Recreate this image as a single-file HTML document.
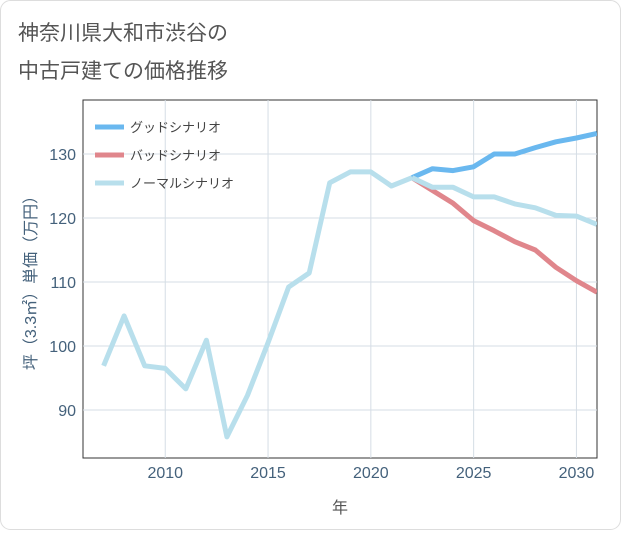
<!DOCTYPE html>
<html><head><meta charset="utf-8"><style>
body{margin:0;background:#fff;}
#wrap{width:621px;height:530px;position:relative;background:#fff;font-family:"Liberation Sans","Noto Sans CJK JP",sans-serif;}
</style></head><body>
<div id="wrap">
<svg id="chart" width="621" height="530" xmlns="http://www.w3.org/2000/svg">
<rect x="0.5" y="0.5" width="620" height="529" rx="10" fill="#fff" stroke="#ddd"/>
<text x="18" y="40" font-size="21" fill="#555" font-family="Liberation Sans,Noto Sans CJK JP,sans-serif">神奈川県大和市渋谷の</text>
<text x="18" y="78" font-size="21" fill="#555" font-family="Liberation Sans,Noto Sans CJK JP,sans-serif">中古戸建ての価格推移</text>
<g id="grid"></g><g id="series"></g><g id="legend"></g>
<text x="340" y="513" font-size="16" fill="#555" text-anchor="middle" font-family="Liberation Sans,Noto Sans CJK JP,sans-serif">年</text>
<text transform="translate(36,279) rotate(-90)" font-size="16" fill="#44617b" text-anchor="middle" font-family="Liberation Sans,Noto Sans CJK JP,sans-serif">坪（3.3㎡）単価（万円）</text>
</svg>
</div>
<script>
const years=[2007,2008,2009,2010,2011,2012,2013,2014,2015,2016,2017,2018,2019,2020,2021,2022];
const normalHist=[96.9,104.7,96.9,96.5,93.3,100.9,85.8,92.3,100.5,109.2,111.4,125.5,127.2,127.2,125,126.3];
const futureYears=[2022,2023,2024,2025,2026,2027,2028,2029,2030,2031];
const goodVals=[126.3,127.7,127.4,128,130,130,131,131.9,132.5,133.2];
const badVals=[126.3,124.3,122.3,119.6,118,116.3,115,112.3,110.2,108.4];
const normalVals=[126.3,124.8,124.8,123.3,123.3,122.2,121.6,120.4,120.3,119];
const xTicks=[2010,2015,2020,2025,2030];
const yTicks=[90,100,110,120,130];
const L=83,R=597,T=100,B=458;
const x=v=>L+(v-2006)*(R-L)/25;
const y=v=>410-(v-90)*6.4;
const NS='http://www.w3.org/2000/svg';
function mk(tag,at,parent){const e=document.createElementNS(NS,tag);for(const k in at)e.setAttribute(k,at[k]);parent.appendChild(e);return e;}
const grid=document.getElementById('grid');
const frame=mk('rect',{x:L,y:T,width:R-L,height:B-T,fill:'none',stroke:'#333','stroke-width':1},grid);


xTicks.forEach(t=>{
 const l=mk('line',{x1:x(t),x2:x(t),y1:T,y2:B,stroke:'#d5dde5'},grid);
 
 
 const tx=mk('text',{x:x(t),y:478,'font-size':16,fill:'#44617b','text-anchor':'middle'},grid);
 tx.textContent=t;
 
 
});
yTicks.forEach(t=>{
 const l=mk('line',{x1:L,x2:R,y1:y(t),y2:y(t),stroke:'#d5dde5'},grid);
 
 
 const tx=mk('text',{x:76,y:y(t)+6,'font-size':16,fill:'#44617b','text-anchor':'end'},grid);
 tx.textContent=t;
 
 
});
const ser=document.getElementById('series');
function line(xs,vs,color,name){
 const d=xs.map((v,i)=>(i?'L':'M')+x(v).toFixed(1)+','+y(vs[i]).toFixed(1)).join('');
 const p=mk('path',{d:d,fill:'none',stroke:color,'stroke-width':5,'stroke-linejoin':'round'},ser);
 
 
}
const clip=mk('clipPath',{id:'pc'},ser);mk('rect',{x:L,y:T,width:R-L,height:B-T},clip);
ser.setAttribute('clip-path','url(#pc)');
line(futureYears,badVals,'#e0868c','bad-scenario-line');
line(futureYears,goodVals,'#6ab8ef','good-scenario-line');
line(years,normalHist,'#b8dfec','normal-history-line');
line(futureYears,normalVals,'#b8dfec','normal-scenario-line');
const lg=document.getElementById('legend');
[['グッドシナリオ','#6ab8ef','legend-good'],['バッドシナリオ','#e0868c','legend-bad'],['ノーマルシナリオ','#b8dfec','legend-normal']].forEach((it,i)=>{
 const g=mk('g',{},lg);
 
 
 const yy=127+i*28;
 mk('line',{x1:95,x2:124,y1:yy,y2:yy,stroke:it[1],'stroke-width':5},g);
 const t=mk('text',{x:130,y:yy+5,'font-size':13,fill:'#444'},g);t.textContent=it[0];
});
</script>
</body></html>
